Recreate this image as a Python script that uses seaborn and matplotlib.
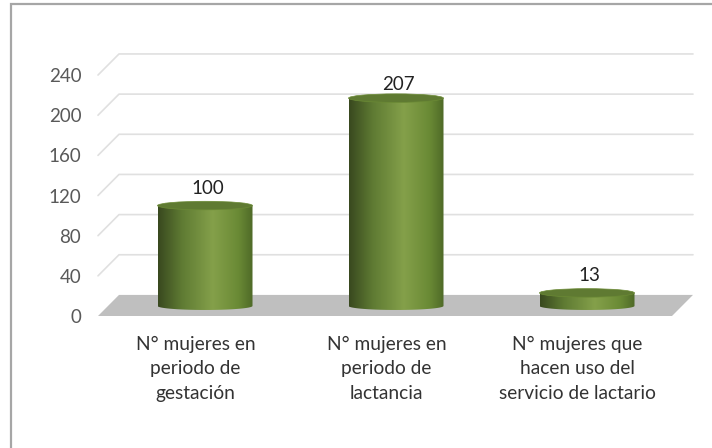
import numpy as np
import pandas as pd
import matplotlib
matplotlib.use('Agg')
import matplotlib.pyplot as plt
import seaborn as sns
from matplotlib.lines import Line2D
from matplotlib.patches import Ellipse, Polygon

categories = ['N° mujeres en\nperiodo de\ngestación',
              'N° mujeres en\nperiodo de\nlactancia',
              'N° mujeres que\nhacen uso del\nservicio de lactario']
values = [100, 207, 13]
y_ticks = [0, 40, 80, 120, 160, 200, 240]

W, H = 712, 448
# pixel box of the plot area
left, right, top, bottom = 98, 693, 40, 316
# fake 3d offsets, in data units / category units
front_dy = 10
back_dy = 11
depth_dx = 21 / 191
bar_w = 95 / 191

sns.set_theme(style='white')
plt.rcParams['font.family'] = ['Lato', 'DejaVu Sans']

df = pd.DataFrame({'cat': categories, 'n': values})

fig = plt.figure(figsize=(W / 100, H / 100), dpi=100)
ax = fig.add_axes([left / W, 1 - bottom / H, (right - left) / W, (bottom - top) / H])
ax.patch.set_alpha(0)

sns.barplot(data=df, x='cat', y='n', color='#6b8a35', width=bar_w, saturation=1, ax=ax, zorder=3)

xmin = (left - 205) / 191
xmax = (right - 205) / 191
ymin = -front_dy
ymax = ymin + (bottom - top) / 1.004

# floor and walls
for v in y_ticks[1:]:
    ax.plot([xmin, xmin + depth_dx, xmax], [v - front_dy, v + back_dy, v + back_dy],
            color='#e0e0e0', lw=1.2, zorder=1, clip_on=False)
ax.add_patch(Polygon([(xmin, -front_dy), (xmin + depth_dx, back_dy), (xmax, back_dy), (xmax - depth_dx, -front_dy)],
                     closed=True, fc='#bfbfbf', ec='none', zorder=2))

# cylinders
grad = matplotlib.colors.LinearSegmentedColormap.from_list(
    'cyl', [(0, '#39491f'), (0.25, '#5f7b33'), (0.58, '#84a04a'), (0.85, '#6a8a35'), (1, '#4f6a28')])
theta = np.linspace(np.pi, 2 * np.pi, 40)
for bar in ax.containers[0]:
    x0 = bar.get_x()
    w = bar.get_width()
    h = bar.get_height()
    cx = x0 + w / 2
    verts = [(x0, h)] + list(zip(cx + w / 2 * np.cos(theta), 4 * np.sin(theta))) + [(x0 + w, h)]
    body = Polygon(verts, closed=True, fc='none', ec='none', transform=ax.transData)
    ax.add_patch(body)
    im = ax.imshow(np.linspace(0, 1, 128).reshape(1, -1), cmap=grad, aspect='auto',
                   extent=(x0, x0 + w, -5, h), zorder=4)
    im.set_clip_path(body)
    ax.add_patch(Ellipse((cx, h), w, 8.5, fc='#5f7a32', ec='#6b8a35', lw=0.5, zorder=5))
    bar.set_visible(False)

labels = ax.bar_label(ax.containers[0], padding=6, fontsize=13.5, color='#222222', zorder=6)
# the labels sit a bit right of the bar centres
for t, nudge in zip(labels, [0, -2, 0.5]):
    t.xyann = (t.xyann[0] + 2, t.xyann[1] + nudge)

ax.set_xlim(xmin, xmax)
ax.set_ylim(ymin, ymax)
ax.set_xticks(np.arange(3) - 0.05)
ax.set_xticklabels(categories, fontsize=13.8, color='#333333', linespacing=1.56)
ax.set_yticks(np.array(y_ticks) - front_dy)
ax.set_yticklabels(y_ticks, fontsize=13.5, color='#595959')
ax.tick_params(axis='x', length=0, pad=14)
ax.tick_params(axis='y', length=0, pad=12)
ax.set_xlabel('')
ax.set_ylabel('')
sns.despine(ax=ax, left=True, bottom=True)

# chart frame, only top and left are visible in the crop
fig.add_artist(Line2D([11 / W, 11 / W, 1], [0, 1 - 4 / H, 1 - 4 / H], transform=fig.transFigure,
                      color='#a6a6a6', lw=1.6, solid_joinstyle='miter'))

fig.savefig('out.png', dpi=100)
